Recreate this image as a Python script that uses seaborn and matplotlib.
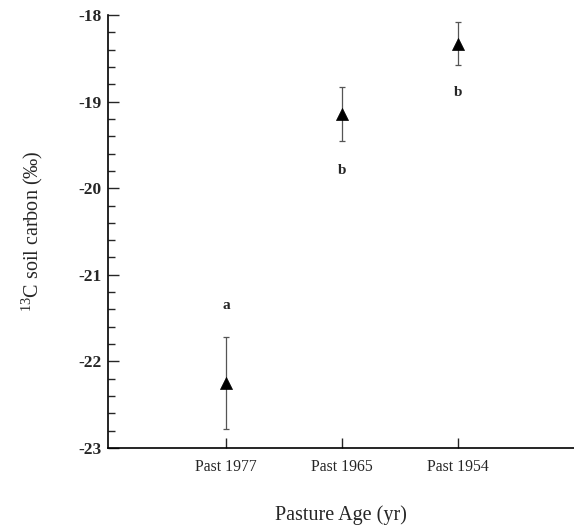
import matplotlib
matplotlib.use("Agg")
import matplotlib.pyplot as plt
import seaborn as sns
import pandas as pd
from matplotlib.ticker import MultipleLocator

categories = ["Past 1977", "Past 1965", "Past 1954"]
means = [-22.25, -19.14, -18.33]
errors = [0.53, 0.31, 0.25]
letters = ["a", "b", "b"]
letter_y = [-21.36, -19.79, -18.90]
yticks = [-23, -22, -21, -20, -19, -18]

sns.set_style("ticks")
plt.rcParams["font.family"] = ["Liberation Serif", "DejaVu Serif"]
plt.rcParams["mathtext.fontset"] = "custom"
plt.rcParams["mathtext.rm"] = "Liberation Serif"
plt.rcParams["mathtext.it"] = "Liberation Serif:italic"

df = pd.DataFrame({"age": categories, "d13c": means, "err": errors})

fig = plt.figure(figsize=(5.74, 5.28), dpi=100)
ax = fig.add_axes([108/574, 80/528, 466/574, 433/528])

pos = list(range(len(categories)))
ax.errorbar(pos, df["d13c"], yerr=df["err"], fmt="none", ecolor="#555555",
            elinewidth=0.9, capsize=2.5, capthick=0.9, zorder=2)
sns.scatterplot(data=df, x="age", y="d13c", marker="^", color="black",
                s=75, edgecolor="black", linewidth=0.5, ax=ax, zorder=3, legend=False)

for p, t, ly in zip(pos, letters, letter_y):
    ax.text(p, ly, t, ha="center", va="center", fontsize=11, fontweight="bold")

ax.set_xlim(-1.02, 3.0)
ax.set_ylim(-23, -18)
ax.set_xticks(pos)
ax.set_xticklabels(categories, fontsize=11.3)
ax.set_yticks(yticks)
ax.set_yticklabels([f"-{abs(v)}" for v in yticks], fontsize=12.5, fontweight="bold")
ax.yaxis.set_minor_locator(MultipleLocator(0.2))
ax.tick_params(axis="y", which="major", direction="in", length=8, width=1, pad=4.5)
ax.tick_params(axis="y", which="minor", direction="in", length=5, width=1)
ax.tick_params(axis="x", which="major", direction="in", length=7, width=1, pad=8)

sns.despine(ax=ax, top=True, right=True)
for s in ["left", "bottom"]:
    ax.spines[s].set_linewidth(1.2)
    ax.spines[s].set_color("black")

ax.set_xlabel("Pasture Age (yr)", fontsize=14.5, labelpad=22)
ax.set_ylabel(r"$^{13}$C soil carbon ($\it{‰}$)", fontsize=14.5, labelpad=24)

fig.savefig("out.png", dpi=100)
